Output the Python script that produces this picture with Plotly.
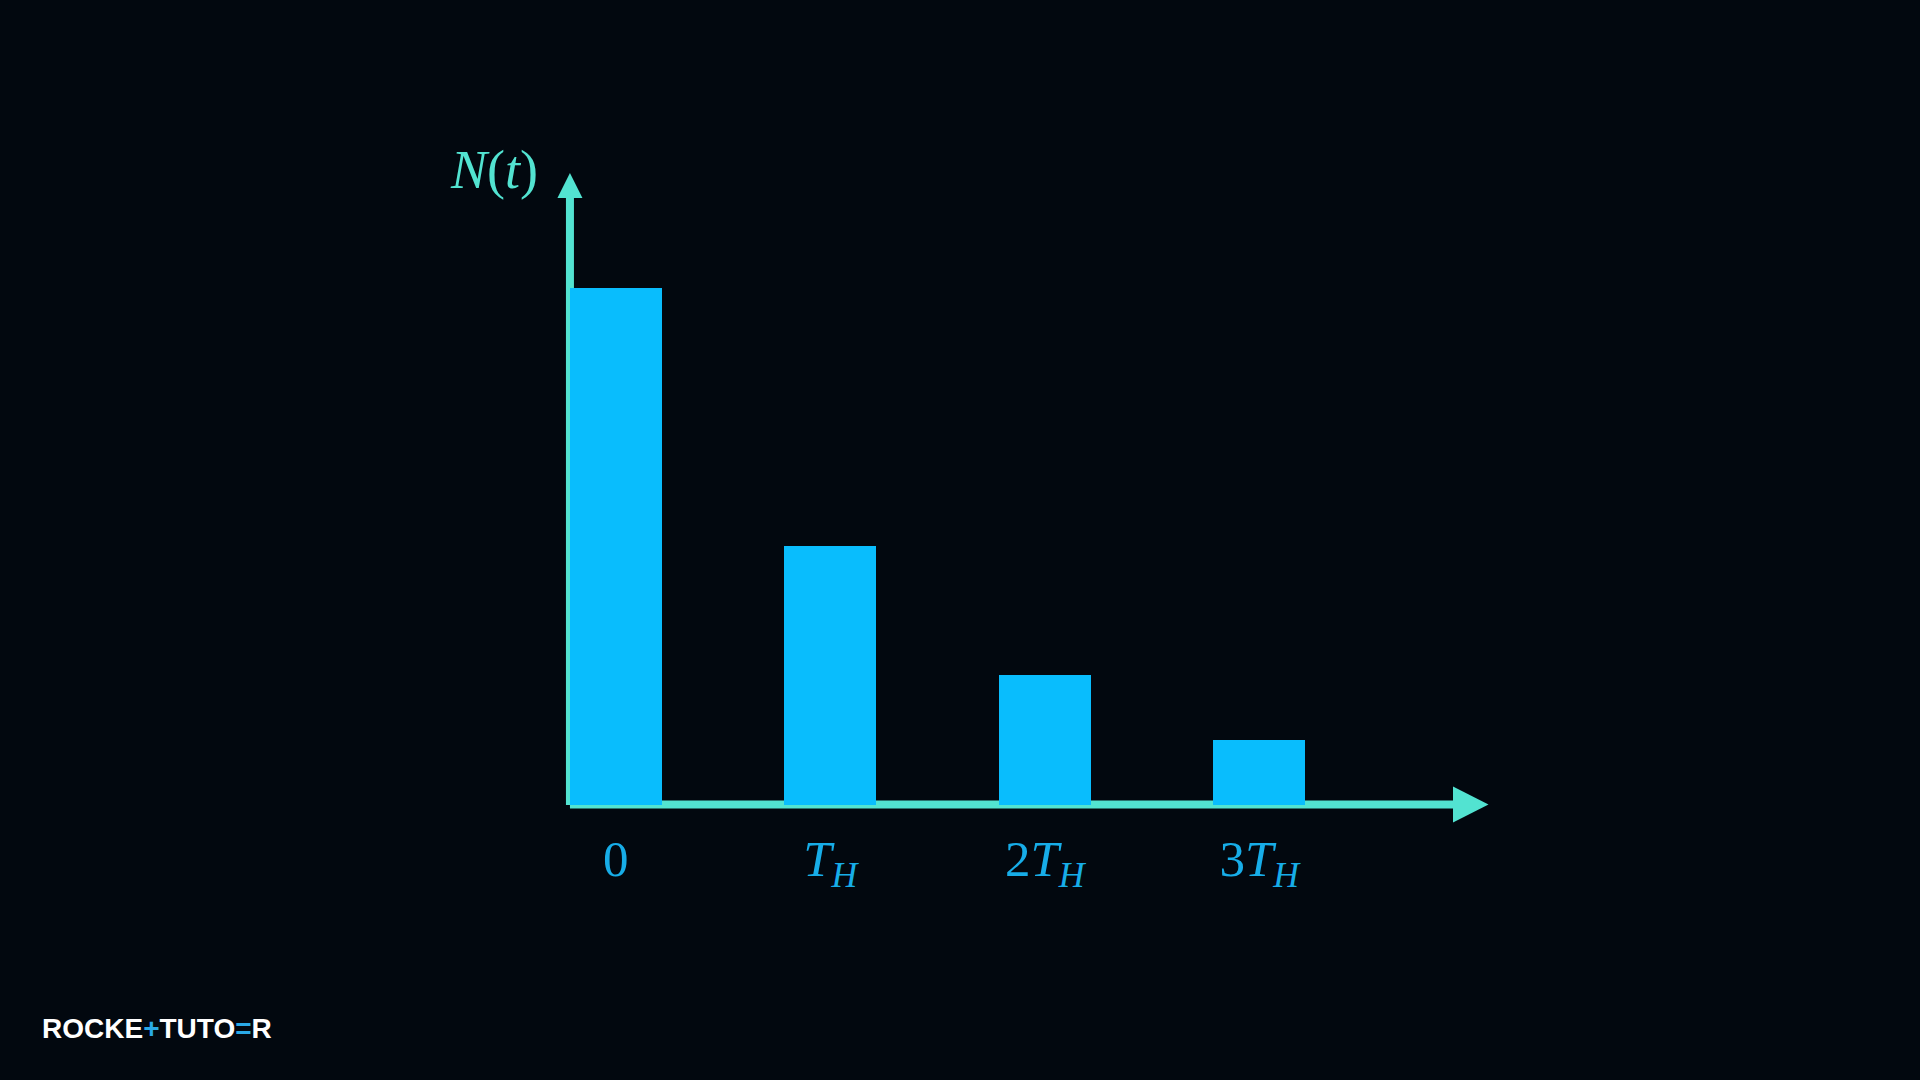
import plotly.graph_objects as go

# ---- data ----
categories = [0, 1, 2, 3]
tick_labels = ["0", "<i>T</i><sub><i>H</i></sub>", "2<i>T</i><sub><i>H</i></sub>", "3<i>T</i><sub><i>H</i></sub>"]
counts = [100, 50, 25, 12.5]
y_title = "<i>N</i>(<i>t</i>)"

# ---- styling ----
BG = "#02080f"
BAR = "#09bdfd"
AXIS = "#52e3d1"
LABEL = "#17ade8"
SERIF = "Liberation Serif, DejaVu Serif, serif"

W, H = 1920, 1080
# plot area in pixels
PL, PR, PT, PB = 548, 1492, 168, 824
# scale: pixel of category 0 and spacing; pixel of value 0 and px per unit
X0PX, DXPX = 615.8, 214.5
Y0PX, DYPX = 804.5, 5.162

x_lo = (PL - X0PX) / DXPX
x_hi = (PR - X0PX) / DXPX
y_lo = -(PB - Y0PX) / DYPX
y_hi = (Y0PX - PT) / DYPX

bw = 91.7 / DXPX
x_left = categories[0] - bw / 2

def ux(px):
    return px / DXPX

def uy(px):
    return px / DYPX

fig = go.Figure()
fig.add_trace(go.Bar(
    x=categories, y=counts, width=bw,
    marker=dict(color=BAR, line=dict(width=0)),
    hoverinfo="skip",
))

# axis arrow geometry (data units derived from pixel sizes)
x_arrow_base = ux(1453 - X0PX)
x_arrow_tip = ux(1488.5 - X0PX)
x_arrow_half = uy(18)
y_arrow_base = uy(Y0PX - 198)
y_arrow_tip = uy(Y0PX - 173)
y_arrow_half = ux(12.5)

shapes = [
    dict(type="line", xref="x", yref="y", x0=x_left, x1=x_left, y0=uy(-0.5), y1=y_arrow_base,
         line=dict(color=AXIS, width=8), layer="below"),
    dict(type="line", xref="x", yref="y", x0=x_left, x1=x_arrow_base, y0=0, y1=0,
         line=dict(color=AXIS, width=8), layer="below"),
    dict(type="path", xref="x", yref="y",
         path=f"M {x_arrow_base} {-x_arrow_half} L {x_arrow_tip} 0 L {x_arrow_base} {x_arrow_half} Z",
         fillcolor=AXIS, line=dict(width=0), layer="below"),
    dict(type="path", xref="x", yref="y",
         path=f"M {x_left - y_arrow_half} {y_arrow_base} L {x_left} {y_arrow_tip} L {x_left + y_arrow_half} {y_arrow_base} Z",
         fillcolor=AXIS, line=dict(width=0), layer="below"),
]

annotations = [
    dict(xref="x", yref="y", x=x_left, y=uy(Y0PX - 170), text=y_title, showarrow=False,
         xanchor="right", yanchor="middle", xshift=-30,
         font=dict(family=SERIF, size=54, color=AXIS)),
    dict(xref="paper", yref="paper", x=(40 - PL) / (PR - PL), y=(PB - 1028) / (PB - PT),
         xanchor="left", yanchor="middle", showarrow=False,
         text="ROCKE<span style='color:#2aa9e6'>+</span>TUTO<span style='color:#2aa9e6'>=</span>R",
         font=dict(family="Liberation Sans, Arial, sans-serif", size=28, color="#ffffff", weight="bold")),
]

fig.update_layout(
    width=W, height=H,
    paper_bgcolor=BG, plot_bgcolor=BG,
    margin=dict(l=PL, r=W - PR, t=PT, b=H - PB, pad=0),
    showlegend=False,
    bargap=0,
    shapes=shapes,
    annotations=annotations,
    xaxis=dict(range=[x_lo, x_hi], tickvals=categories, ticktext=tick_labels,
               showgrid=False, zeroline=False, showline=False, ticks="",
               tickfont=dict(family=SERIF, size=51, color=LABEL),
               ticklabelstandoff=0),
    yaxis=dict(range=[y_lo, y_hi], showgrid=False, zeroline=False, showline=False,
               showticklabels=False, ticks=""),
)

fig.write_html("out.html", config={"displayModeBar": False},
               post_script="document.body.style.margin='0';document.body.style.background='#02080f';")
